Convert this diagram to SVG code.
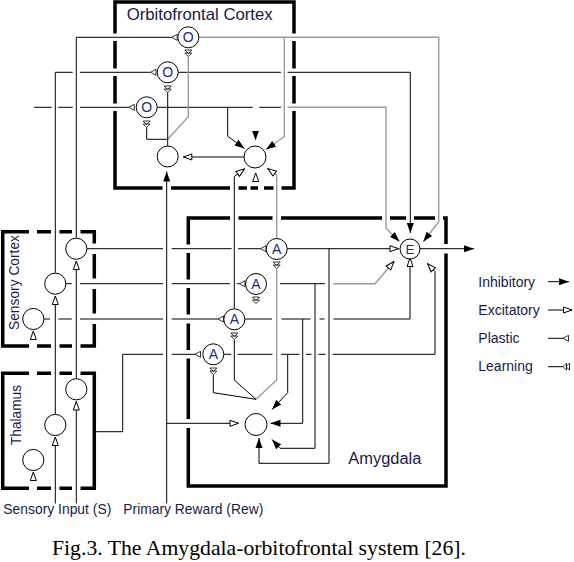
<svg xmlns="http://www.w3.org/2000/svg" width="574" height="562" viewBox="0 0 574 562">
<style>
.box{fill:none;stroke:#000;stroke-width:3.5}
.ln{fill:none;stroke:#000;stroke-width:1}
.gr{fill:none;stroke:#9c9c9c;stroke-width:1.4}
.bare{fill:none;stroke:none}
.nc{fill:#fff;stroke:#000;stroke-width:1}
.lb{font-family:"Liberation Sans",Arial,sans-serif;fill:#1a1a4a}
.nl{font-family:"Liberation Sans",Arial,sans-serif;font-size:14px;fill:#1a2a8a;text-anchor:middle}
.cap{font-family:"Liberation Serif","Times New Roman",serif;font-size:21.5px;fill:#000}
</style>
<defs>
<marker id="exc" viewBox="0 0 10 8" refX="9.5" refY="4" markerWidth="10" markerHeight="8" markerUnits="userSpaceOnUse" orient="auto"><path d="M1,1 L9.5,4 L1,7 Z" fill="#fff" stroke="#000" stroke-width="1"/></marker>
<marker id="inh" viewBox="0 0 10 8" refX="10" refY="4" markerWidth="10" markerHeight="8" markerUnits="userSpaceOnUse" orient="auto"><path d="M0,0.5 L10,4 L0,7.5 Z" fill="#000"/></marker>
<g id="pl"><path d="M0,0 L5.5,-3 L5.5,3 Z" fill="#fff" stroke="#000" stroke-width="0.8"/></g>
<g id="lrn"><path d="M-3.5,0 H3.5 L0,3.5 Z M-3.5,3 H3.5 L0,6.5 Z" fill="#fff" stroke="#000" stroke-width="0.8"/></g>
<g id="lrnL"><path d="M0,0 L3.5,-3.5 V3.5 Z M3,0 L6.5,-3.5 V3.5 Z" fill="#fff" stroke="#000" stroke-width="0.8"/></g>
</defs>

<g id="boxes">
<path class="box" d="M113.25,2 H295.75 M115,0.25 V33.5 M115,41 V68.5 M115,76 V103.5 M115,111 V189.75 M294,0.25 V33.5 M294,41 V68.5 M294,76 V103.5 M294,111 V189.75 M113.25,188 H162.5 M171,188 H230 M238.5,188 H247 M250.5,188 H258 M264,188 H273.5 M281.5,188 H295.75"/>
<path class="box" d="M188.3,216.25 V244.5 M188.3,253 V279.5 M188.3,288 V314.5 M188.3,323.5 V350 M188.3,358.5 V419 M188.3,428 V487.75 M186.55,218 H230 M238.5,218 H272.5 M281,218 H382 M390,218 H406 M414,218 H435 M443,218 H447.75 M446,216.25 V244 M446,253.5 V487.75 M186.55,486 H447.75"/>
<path class="box" d="M2.7,229.95 V347.75 M0.95,231.7 H29 M37,231.7 H51 M59.5,231.7 H72 M80.5,231.7 H96.05 M94.3,229.95 V243.5 M94.3,254 V278.5 M94.3,289 V313.5 M94.3,324 V347.75 M0.95,346 H29 M37,346 H51 M59.5,346 H72 M80.5,346 H96.05"/>
<path class="box" d="M2.7,371.55 V490.05 M0.95,373.3 H29 M37,373.3 H51 M59.5,373.3 H72 M80.5,373.3 H96.05 M94.3,371.55 V490.05 M0.95,488.3 H29 M37,488.3 H51 M59.5,488.3 H72 M80.5,488.3 H96.05"/>
</g>

<g id="connectors">
<!-- thalamus to sensory cortex -->
<path class="ln" d="M76.3,503.5 V401.5" marker-end="url(#exc)"/>
<path class="ln" d="M55.3,503.5 V437" marker-end="url(#exc)"/>
<path class="bare" d="M33.3,482 V472" marker-end="url(#exc)"/>
<path class="ln" d="M76.3,378.7 V261" marker-end="url(#exc)"/>
<path class="ln" d="M55.3,414.3 V296" marker-end="url(#exc)"/>
<path class="bare" d="M33.3,342 V331" marker-end="url(#exc)"/>
<!-- sensory cortex to OFC -->
<path class="ln" d="M76.3,237.6 V37.3 H171.7"/>
<path class="ln" d="M55.3,272.6 V72.3 H72.7 M80,72.3 H150.5"/>
<path class="ln" d="M34,107.3 H51.7 M58.3,107.3 H72.7 M80,107.3 H128.8"/>
<!-- OFC outputs -->
<path class="gr" d="M198.8,37.3 H438.7 V221.7 L423.3,241.7" marker-end="url(#inh)"/>
<path class="gr" d="M284.3,37.3 V136.7 L266,149.5" marker-end="url(#inh)"/>
<path class="ln" d="M178.2,72.3 H281 M287.6,72.3 H410.3 V233" marker-end="url(#inh)"/>
<path class="ln" d="M157.2,107.3 H252.7 M259.3,107.3 H281"/>
<path class="gr" d="M287.6,107.3 H386 V228.3 L399.5,241.5" marker-end="url(#inh)"/>
<path class="ln" d="M227.7,107.3 V136.2 L244.5,148.5" marker-end="url(#inh)"/>
<path class="bare" d="M255.5,128 V140.5" marker-end="url(#inh)"/>
<path class="ln" d="M244,157 H183.3" marker-end="url(#exc)"/>
<!-- OFC learning -->
<path class="gr" d="M188.3,56.5 V116.7 L167.7,139.3"/>
<path class="ln" d="M167.7,92.5 V146"/>
<path class="ln" d="M146.7,127.5 V139.3 H167.7"/>
<!-- reward -->
<path class="ln" d="M166.7,503.5 V171.5" marker-end="url(#inh)"/>
<path class="ln" d="M166.7,423.3 H238.5" marker-end="url(#exc)"/>
<!-- thalamus to A4 -->
<path class="ln" d="M94.3,431.7 H122.7 V354.3 H163 M171.7,354.3 H195"/>
<!-- sensory cortex to amygdala -->
<path class="ln" d="M86.9,248.7 H163 M171.7,248.7 H231.7 M238,248.7 H260.5"/>
<path class="ln" d="M66,283.7 H71.7 M80,283.7 H163 M171.7,283.7 H230 M236.7,283.7 H239.5"/>
<path class="ln" d="M44,319 H50 M58.3,319 H71.7 M80,319 H163 M171.7,319 H218"/>
<!-- amygdala to OFC -->
<path class="ln" d="M234.3,308.5 V176.5 L244.5,168.8" marker-end="url(#exc)"/>
<path class="gr" d="M276.7,238.5 V175 L267.8,168.6" marker-end="url(#exc)"/>
<path class="bare" d="M255.7,184 V173" marker-end="url(#exc)"/>
<!-- amygdala learning -->
<path class="gr" d="M276.7,269 V380 L256,399.3"/>
<path class="ln" d="M234.3,340 V380 L256,399.3"/>
<path class="ln" d="M213.3,375 V392.7 L256,399.3"/>
<!-- amygdala outputs -->
<path class="ln" d="M287.3,248.7 H398.5" marker-end="url(#exc)"/>
<path class="ln" d="M329,248.7 V463.3 H259 V438" marker-end="url(#inh)"/>
<path class="ln" d="M280,283.7 H325"/>
<path class="gr" d="M333.3,283.7 H375 L394,261.5" marker-end="url(#exc)"/>
<path class="ln" d="M315,283.7 V448.3 H280 L272,439.5" marker-end="url(#inh)"/>
<path class="ln" d="M245,319 H272 M281.5,319 H310.5 M319.5,319 H324.5 M333.5,319 H410 V258" marker-end="url(#exc)"/>
<path class="ln" d="M302.7,319 V423.3 H270.5" marker-end="url(#inh)"/>
<path class="ln" d="M223.8,354.3 H231 M237.6,354.3 H272.5 M281,354.3 H299.5 M306,354.3 H311.5 M318.5,354.3 H325.5 M332.5,354.3 H435 V271.7 L427.5,263.5" marker-end="url(#exc)"/>
<path class="ln" d="M287.7,354.3 V392.7 L272,409.5" marker-end="url(#inh)"/>
<path class="ln" d="M420,248.7 H474" marker-end="url(#inh)"/>
<!-- plastic and learning marks -->
<use href="#pl" x="171.7" y="37.3"/>
<use href="#pl" x="150.5" y="72.3"/>
<use href="#pl" x="128.8" y="107.3"/>
<use href="#pl" x="260.5" y="248.7"/>
<use href="#pl" x="239.5" y="283.7"/>
<use href="#pl" x="218" y="319"/>
<use href="#pl" x="195" y="354.3"/>
<use href="#lrn" x="188.3" y="50"/>
<use href="#lrn" x="167.7" y="86"/>
<use href="#lrn" x="146.7" y="121"/>
<use href="#lrn" x="276.7" y="262"/>
<use href="#lrn" x="256" y="297"/>
<use href="#lrn" x="234.3" y="333"/>
<use href="#lrn" x="213.3" y="368"/>
</g>

<g id="n-O1"><circle class="nc" cx="188.3" cy="37.3" r="10.5"/><text class="nl" x="188.3" y="42.3">O</text></g>
<g id="n-O2"><circle class="nc" cx="167.7" cy="72.3" r="10.5"/><text class="nl" x="167.7" y="77.3">O</text></g>
<g id="n-O3"><circle class="nc" cx="146.7" cy="107.3" r="10.5"/><text class="nl" x="146.7" y="112.3">O</text></g>
<g id="n-OFC-L"><circle class="nc" cx="167.7" cy="156.5" r="10.5"/></g>
<g id="n-OFC-R"><circle class="nc" cx="255" cy="157" r="11"/></g>
<g id="n-SC1"><circle class="nc" cx="76.3" cy="248.7" r="10.6"/></g>
<g id="n-SC2"><circle class="nc" cx="55.3" cy="283.7" r="10.6"/></g>
<g id="n-SC3"><circle class="nc" cx="33.3" cy="319" r="10.6"/></g>
<g id="n-T1"><circle class="nc" cx="76.3" cy="389.3" r="10.6"/></g>
<g id="n-T2"><circle class="nc" cx="55.3" cy="425" r="10.6"/></g>
<g id="n-T3"><circle class="nc" cx="33.3" cy="460" r="10.6"/></g>
<g id="n-A1"><circle class="nc" cx="276.7" cy="249" r="10.5"/><text class="nl" x="276.7" y="254">A</text></g>
<g id="n-A2"><circle class="nc" cx="256" cy="284" r="10.5"/><text class="nl" x="256" y="289">A</text></g>
<g id="n-A3"><circle class="nc" cx="234.3" cy="319.3" r="10.5"/><text class="nl" x="234.3" y="324.3">A</text></g>
<g id="n-A4"><circle class="nc" cx="213.3" cy="354.3" r="10.5"/><text class="nl" x="213.3" y="359.3">A</text></g>
<g id="n-E"><circle class="nc" cx="410" cy="249" r="10"/><text class="nl" x="410" y="253.8" style="font-size:13.5px">E</text></g>
<g id="n-low"><circle class="nc" cx="256" cy="424.5" r="11"/></g>

<g id="labels">
<text class="lb" x="126.7" y="20" font-size="16.5" textLength="146" lengthAdjust="spacingAndGlyphs">Orbitofrontal Cortex</text>
<text class="lb" x="348.3" y="463.5" font-size="16" textLength="73" lengthAdjust="spacingAndGlyphs">Amygdala</text>
<text class="lb" transform="translate(19,330) rotate(-90)" font-size="14.5" textLength="95" lengthAdjust="spacingAndGlyphs">Sensory Cortex</text>
<text class="lb" transform="translate(20.5,445) rotate(-90)" font-size="14.5" textLength="60" lengthAdjust="spacingAndGlyphs">Thalamus</text>
<text class="lb" x="3.3" y="513.5" font-size="14.5" textLength="108" lengthAdjust="spacingAndGlyphs">Sensory Input (S)</text>
<text class="lb" x="123.3" y="513.5" font-size="14.5" textLength="140" lengthAdjust="spacingAndGlyphs">Primary Reward (Rew)</text>
</g>

<g id="legend">
<text class="lb" x="478.3" y="287" font-size="14">Inhibitory</text>
<text class="lb" x="478.3" y="315" font-size="14">Excitatory</text>
<text class="lb" x="478.3" y="342.5" font-size="14">Plastic</text>
<text class="lb" x="478.3" y="370.5" font-size="14">Learning</text>
<path class="ln" d="M548,281.7 H569" marker-end="url(#inh)"/>
<path class="ln" d="M548,310 H572" marker-end="url(#exc)"/>
<path class="ln" d="M548,338.3 H563"/>
<use href="#pl" x="563" y="338.3"/>
<path class="ln" d="M548,366.7 H563"/>
<use href="#lrnL" x="563" y="366.7"/>
</g>

<text class="cap" x="52" y="555" textLength="414" lengthAdjust="spacingAndGlyphs">Fig.3. The Amygdala-orbitofrontal system [26].</text>
</svg>
